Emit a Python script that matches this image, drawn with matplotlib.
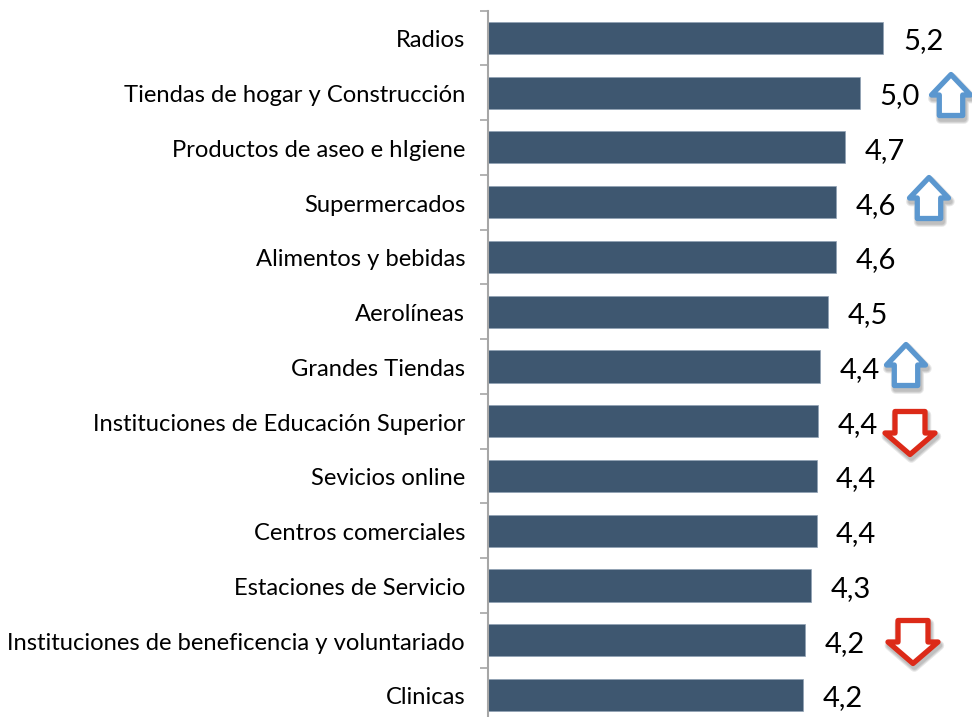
import matplotlib
matplotlib.use("Agg")
import matplotlib.pyplot as plt
import matplotlib.patheffects as pe
from matplotlib.patches import Polygon
from matplotlib.transforms import Affine2D

categories = ["Radios", "Tiendas de hogar y Construcción", "Productos de aseo e hIgiene",
              "Supermercados", "Alimentos y bebidas", "Aerolíneas", "Grandes Tiendas",
              "Instituciones de Educación Superior", "Sevicios online", "Centros comerciales",
              "Estaciones de Servicio", "Instituciones de beneficencia y voluntariado", "Clinicas"]
# bar lengths, the printed labels are rounded differently
values = [5.21, 4.905, 4.70, 4.59, 4.59, 4.485, 4.375, 4.35, 4.33, 4.33, 4.26, 4.18, 4.155]
value_labels = ["5,2", "5,0", "4,7", "4,6", "4,6", "4,5", "4,4", "4,4", "4,4", "4,4", "4,3", "4,2", "4,2"]
trend = [0, 1, 0, 1, 0, 0, 1, -1, 0, 0, 0, -1, 0]

plt.rcParams['font.family'] = ['Lato', 'DejaVu Sans']

W, H = 972, 717
fig = plt.figure(figsize=(W / 100, H / 100), dpi=100)
left, top = 487.5, 10.6
ax = fig.add_axes([left / W, 0, (W - left) / W, (H - top) / H])
px_per_unit = 76.0
row_h = 54.75
ax.set_xlim(0, (W - left) / px_per_unit)
ax.set_ylim((H - 38) / row_h, -0.5)

rows = list(range(len(categories)))
ax.barh(rows, values, height=0.585, color="#3E5770", edgecolor="#8FA0B3", linewidth=0.5)

for s in ["top", "right", "bottom"]:
    ax.spines[s].set_visible(False)
ax.spines["left"].set_color("#A6A6A6")
ax.spines["left"].set_linewidth(1.5)
ax.xaxis.set_visible(False)
ax.set_yticks([r - 0.5 for r in rows])
ax.set_yticklabels([])
ax.tick_params(axis="y", length=5.5, width=1.2, color="#A6A6A6")

for r, name in zip(rows, categories):
    ax.annotate(name, (0, r), xytext=(-22.5, -1), textcoords="offset pixels", ha="right", va="center_baseline",
                fontsize=17.15, color="black")

for r, v, lab in zip(rows, values, value_labels):
    ax.annotate(lab, (v, r), xytext=(19.5, -1), textcoords="offset pixels", ha="left", va="center_baseline",
                fontsize=21, color="black")

# arrows are placed in picture pixels
to_pixels = Affine2D().scale(1, -1).translate(0, H)


def arrow(cx, cy, w, h, up, color):
    head = h * 0.5
    shaft = w * 0.3
    s = -1 if up else 1
    tip = cy + s * h / 2
    neck = tip - s * head
    tail = cy - s * h / 2
    pts = [(cx, tip), (cx + w / 2, neck), (cx + shaft, neck), (cx + shaft, tail),
           (cx - shaft, tail), (cx - shaft, neck), (cx - w / 2, neck)]
    p = Polygon(pts, closed=True, facecolor="white", edgecolor=color, linewidth=3.8,
                joinstyle="round", transform=to_pixels, clip_on=False, zorder=5)
    shadows = [pe.SimpleLineShadow(offset=(1, -2.5), shadow_color="black", alpha=0.09, linewidth=lw)
               for lw in (7, 5.5, 4)]
    p.set_path_effects(shadows + [pe.Normal()])
    fig.add_artist(p)


BLUE, RED = "#5B97CF", "#DC2A18"
arrow_spots = {1: (951, 95), 3: (929, 198), 6: (906, 365), 7: (910, 433), 11: (913, 642)}
for r, t in zip(rows, trend):
    if t:
        cx, cy = arrow_spots[r]
        if t > 0:
            arrow(cx, cy, 39, 41, True, BLUE)
        else:
            arrow(cx, cy, 50, 43, False, RED)

fig.savefig("out.png", dpi=100)
